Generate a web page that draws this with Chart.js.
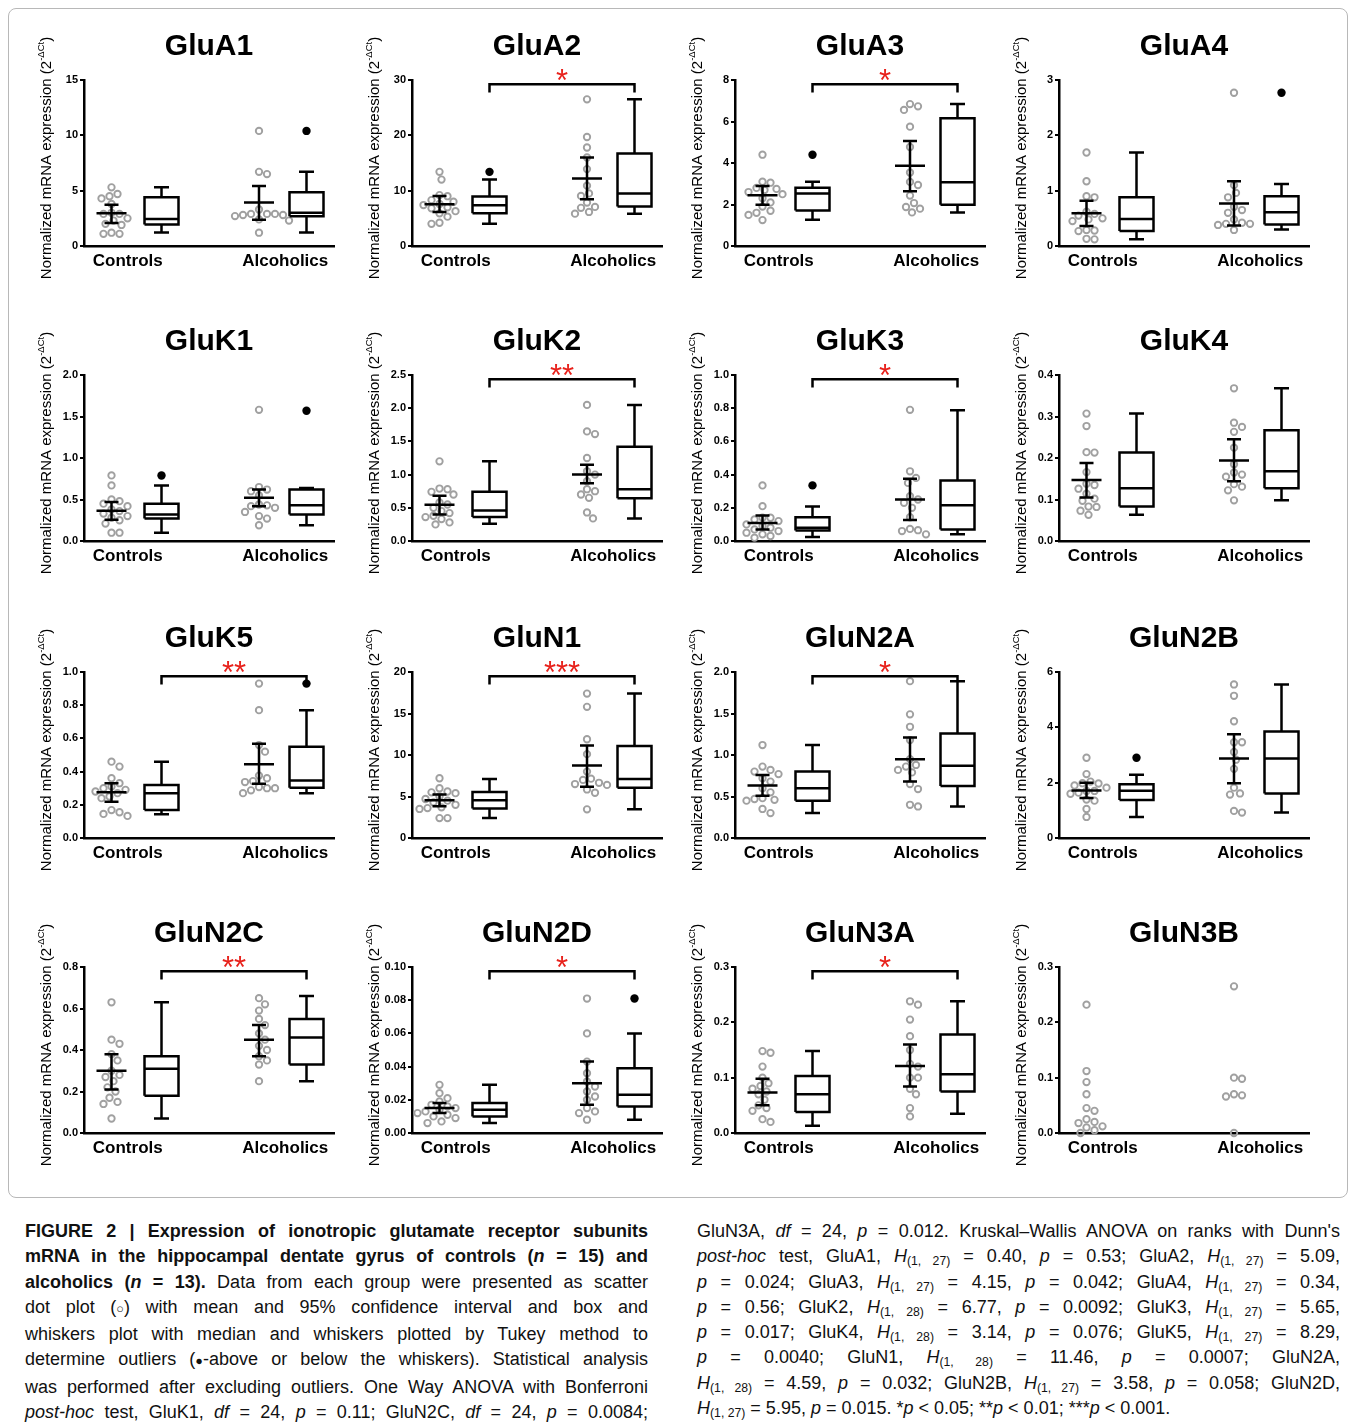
<!DOCTYPE html>
<html>
<head>
<meta charset="utf-8">
<script src="https://cdn.jsdelivr.net/npm/chart.js@4.4.1/dist/chart.umd.min.js"></script>
<style>
  body { margin: 0; background: #fff; width: 1355px; height: 1425px; position: relative; overflow: hidden;
         font-family: "Liberation Sans", Arial, sans-serif; color: #111; }
  #frame { position: absolute; left: 8px; top: 8px; width: 1338px; height: 1188px;
           border: 1px solid #b8b8b8; border-radius: 8px; }
  canvas.panel { position: absolute; }
  .cap { position: absolute; top: 1219px; font-size: 18px; line-height: 25.3px; }
  .cap div { text-align: justify; text-align-last: justify; white-space: nowrap; }
  .cap div.last { text-align-last: left; }
  .cap sub { font-size: 68%; vertical-align: -3px; line-height: 0; }
  .sym { display: inline-block; }
  .sym small { font-size: 70%; }
</style>
</head>
<body>
<div id="frame"></div>

<div class="cap" style="left:25px; width:623px;">
  <div><b>FIGURE 2 | Expression of ionotropic glutamate receptor subunits</b></div>
  <div><b>mRNA in the hippocampal dentate gyrus of controls (<i>n</i> = 15) and</b></div>
  <div><b>alcoholics (<i>n</i> = 13).</b> Data from each group were presented as scatter</div>
  <div>dot plot <span class="sym">(<small>○</small>)</span> with mean and 95% confidence interval and box and</div>
  <div>whiskers plot with median and whiskers plotted by Tukey method to</div>
  <div>determine outliers <span class="sym">(<small>●</small>-above</span> or below the whiskers). Statistical analysis</div>
  <div>was performed after excluding outliers. One Way ANOVA with Bonferroni</div>
  <div><i>post-hoc</i> test, GluK1, <i>df</i> = 24, <i>p</i> = 0.11; GluN2C, <i>df</i> = 24, <i>p</i> = 0.0084;</div>
</div>
<div class="cap" style="left:697px; width:643px;">
  <div>GluN3A, <i>df</i> = 24, <i>p</i> = 0.012. Kruskal–Wallis ANOVA on ranks with Dunn's</div>
  <div><i>post-hoc</i> test, GluA1, <i>H</i><sub>(1, 27)</sub> = 0.40, <i>p</i> = 0.53; GluA2, <i>H</i><sub>(1, 27)</sub> = 5.09,</div>
  <div><i>p</i> = 0.024; GluA3, <i>H</i><sub>(1, 27)</sub> = 4.15, <i>p</i> = 0.042; GluA4, <i>H</i><sub>(1, 27)</sub> = 0.34,</div>
  <div><i>p</i> = 0.56; GluK2, <i>H</i><sub>(1, 28)</sub> = 6.77, <i>p</i> = 0.0092; GluK3, <i>H</i><sub>(1, 27)</sub> = 5.65,</div>
  <div><i>p</i> = 0.017; GluK4, <i>H</i><sub>(1, 28)</sub> = 3.14, <i>p</i> = 0.076; GluK5, <i>H</i><sub>(1, 27)</sub> = 8.29,</div>
  <div><i>p</i> = 0.0040; GluN1, <i>H</i><sub>(1, 28)</sub> = 11.46, <i>p</i> = 0.0007; GluN2A,</div>
  <div><i>H</i><sub>(1, 28)</sub> = 4.59, <i>p</i> = 0.032; GluN2B, <i>H</i><sub>(1, 27)</sub> = 3.58, <i>p</i> = 0.058; GluN2D,</div>
  <div class="last"><i>H</i><sub>(1, 27)</sub> = 5.95, <i>p</i> = 0.015. *<i>p</i> &lt; 0.05; **<i>p</i> &lt; 0.01; ***<i>p</i> &lt; 0.001.</div>
</div>

<script>
const genes = ['GluA1', 'GluA2', 'GluA3', 'GluA4', 'GluK1', 'GluK2', 'GluK3', 'GluK4',
               'GluK5', 'GluN1', 'GluN2A', 'GluN2B', 'GluN2C', 'GluN2D', 'GluN3A', 'GluN3B'];
const groups = ['Controls', 'Alcoholics'];
const yMax  = [15, 30, 8, 3, 2, 2.5, 1, 0.4, 1, 20, 2, 6, 0.8, 0.1, 0.3, 0.3];
const yStep = [5, 10, 2, 1, 0.5, 0.5, 0.2, 0.1, 0.2, 5, 0.5, 2, 0.2, 0.02, 0.1, 0.1];
const stars = ['', '*', '*', '', '', '**', '*', '', '**', '***', '*', '', '**', '*', '*', ''];

// individual subjects (scatter dots)
const controls = [
  [5.3, 4.7, 4.5, 4.3, 3.8, 3.0, 2.9, 2.9, 2.5, 2.3, 2.0, 1.9, 1.2, 1.1, 1.1],
  [13.4, 12.0, 9.2, 9.0, 8.3, 8.0, 7.6, 7.4, 7.0, 6.8, 6.3, 5.9, 5.3, 4.2, 4.0],
  [4.4, 3.1, 3.05, 2.8, 2.75, 2.7, 2.6, 2.5, 2.3, 2.1, 1.9, 1.7, 1.6, 1.5, 1.25],
  [1.69, 1.17, 0.9, 0.88, 0.62, 0.58, 0.55, 0.5, 0.48, 0.45, 0.29, 0.27, 0.28, 0.13, 0.12],
  [0.79, 0.67, 0.5, 0.48, 0.45, 0.42, 0.38, 0.36, 0.33, 0.3, 0.28, 0.25, 0.21, 0.1, 0.1],
  [1.2, 0.79, 0.78, 0.74, 0.7, 0.58, 0.55, 0.5, 0.45, 0.42, 0.38, 0.36, 0.33, 0.28, 0.25],
  [0.335, 0.21, 0.14, 0.14, 0.13, 0.12, 0.1, 0.09, 0.08, 0.07, 0.06, 0.05, 0.04, 0.03, 0.02],
  [0.307, 0.277, 0.214, 0.213, 0.166, 0.138, 0.135, 0.126, 0.114, 0.102, 0.097, 0.083, 0.082, 0.073, 0.063],
  [0.46, 0.43, 0.36, 0.33, 0.31, 0.3, 0.29, 0.28, 0.27, 0.25, 0.24, 0.168, 0.155, 0.145, 0.133],
  [7.2, 6.0, 5.6, 5.5, 5.4, 5.0, 4.7, 4.5, 4.3, 4.0, 3.7, 3.6, 3.5, 2.4, 2.4],
  [1.12, 0.86, 0.82, 0.8, 0.77, 0.72, 0.68, 0.6, 0.55, 0.48, 0.47, 0.46, 0.45, 0.35, 0.3],
  [2.9, 2.31, 2.04, 1.98, 1.97, 1.9, 1.82, 1.7, 1.7, 1.64, 1.6, 1.39, 1.35, 1.05, 0.76],
  [0.63, 0.45, 0.43, 0.38, 0.35, 0.3, 0.28, 0.27, 0.25, 0.22, 0.2, 0.17, 0.15, 0.14, 0.07],
  [0.029, 0.024, 0.021, 0.019, 0.017, 0.016, 0.015, 0.014, 0.013, 0.012, 0.011, 0.01, 0.009, 0.007, 0.006],
  [0.148, 0.145, 0.12, 0.1, 0.09, 0.085, 0.08, 0.075, 0.07, 0.06, 0.05, 0.045, 0.04, 0.025, 0.02],
  [0.232, 0.112, 0.092, 0.07, 0.045, 0.04, 0.025, 0.02, 0.018, 0.012, 0.01, 0.005, 0.0]
];
const alcoholics = [
  [10.4, 6.7, 6.5, 3.3, 2.9, 2.9, 2.9, 2.8, 2.8, 2.7, 2.4, 2.3, 1.2],
  [26.5, 19.7, 17.8, 16.0, 13.9, 10.9, 9.5, 9.05, 7.85, 7.06, 6.9, 6.15, 5.85],
  [6.84, 6.73, 6.56, 5.75, 4.77, 3.54, 3.09, 2.94, 2.43, 2.07, 1.88, 1.8, 1.62],
  [2.77, 1.1, 0.96, 0.88, 0.71, 0.65, 0.6, 0.48, 0.42, 0.4, 0.4, 0.38, 0.29],
  [1.58, 0.65, 0.62, 0.6, 0.55, 0.44, 0.43, 0.42, 0.4, 0.35, 0.3, 0.27, 0.19],
  [2.05, 1.65, 1.61, 1.25, 1.05, 1.0, 0.9, 0.78, 0.75, 0.7, 0.65, 0.43, 0.34],
  [0.79, 0.42, 0.38, 0.35, 0.27, 0.25, 0.23, 0.2, 0.143, 0.073, 0.065, 0.06, 0.04],
  [0.368, 0.285, 0.275, 0.263, 0.225, 0.185, 0.165, 0.16, 0.155, 0.137, 0.131, 0.122, 0.098],
  [0.93, 0.77, 0.56, 0.52, 0.376, 0.36, 0.343, 0.337, 0.307, 0.3, 0.3, 0.287, 0.27],
  [17.4, 15.8, 11.9, 10.1, 8.0, 7.15, 7.0, 6.65, 6.5, 6.4, 5.85, 5.45, 3.45],
  [1.89, 1.49, 1.34, 1.18, 0.95, 0.88, 0.86, 0.82, 0.79, 0.65, 0.59, 0.4, 0.38],
  [5.55, 5.14, 4.22, 3.46, 3.46, 3.11, 2.83, 2.5, 1.82, 1.61, 1.57, 0.98, 0.92],
  [0.65, 0.62, 0.59, 0.55, 0.52, 0.48, 0.45, 0.42, 0.4, 0.37, 0.35, 0.33, 0.25],
  [0.081, 0.06, 0.043, 0.036, 0.031, 0.028, 0.025, 0.022, 0.02, 0.015, 0.013, 0.012, 0.008],
  [0.238, 0.232, 0.205, 0.175, 0.15, 0.125, 0.12, 0.1, 0.1, 0.08, 0.07, 0.045, 0.03],
  [0.265, 0.1, 0.098, 0.07, 0.068, 0.066, 0.0]
];

// mean with 95% CI: [mean, low, high]
const ctrlMean = [
  [2.96, 2.07, 3.72], [7.54, 6.15, 9.05], [2.45, 1.99, 2.89], [0.59, 0.36, 0.82],
  [0.364, 0.255, 0.47], [0.546, 0.40, 0.68], [0.109, 0.07, 0.153], [0.147, 0.105, 0.188],
  [0.275, 0.218, 0.33], [4.55, 3.82, 5.23], [0.634, 0.51, 0.76], [1.72, 1.45, 2.0],
  [0.30, 0.21, 0.38], [0.015, 0.012, 0.018], [0.073, 0.05, 0.098], null
];
const alcMean = [
  [3.93, 2.38, 5.43], [12.19, 8.45, 16.0], [3.87, 2.64, 5.06], [0.77, 0.37, 1.17],
  [0.52, 0.42, 0.62], [1.0, 0.87, 1.15], [0.25, 0.127, 0.375], [0.194, 0.144, 0.245],
  [0.445, 0.327, 0.568], [8.73, 6.16, 11.15], [0.95, 0.68, 1.21], [2.87, 1.98, 3.75],
  [0.45, 0.37, 0.52], [0.030, 0.017, 0.043], [0.121, 0.084, 0.16], null
];

// Tukey box: [whisker low, q1, median, q3, whisker high]
const ctrlBox = [
  [1.22, 1.95, 2.44, 4.4, 5.3], [4.0, 5.9, 7.36, 8.93, 12.0], [1.26, 1.71, 2.53, 2.81, 3.1],
  [0.12, 0.27, 0.49, 0.88, 1.69], [0.1, 0.27, 0.32, 0.45, 0.67], [0.26, 0.36, 0.46, 0.74, 1.2],
  [0.024, 0.063, 0.08, 0.143, 0.208], [0.063, 0.083, 0.127, 0.213, 0.307], [0.143, 0.168, 0.27, 0.32, 0.46],
  [2.4, 3.54, 4.55, 5.55, 7.12], [0.3, 0.45, 0.6, 0.8, 1.12], [0.76, 1.37, 1.71, 1.94, 2.29],
  [0.07, 0.18, 0.31, 0.37, 0.63], [0.006, 0.01, 0.014, 0.018, 0.029], [0.013, 0.038, 0.07, 0.103, 0.148], null
];
const alcBox = [
  [1.22, 2.68, 3.0, 4.85, 6.7], [5.85, 7.12, 9.47, 16.7, 26.5], [1.62, 1.99, 3.07, 6.16, 6.84],
  [0.3, 0.39, 0.61, 0.9, 1.12], [0.19, 0.32, 0.43, 0.62, 0.64], [0.34, 0.645, 0.78, 1.42, 2.05],
  [0.04, 0.07, 0.216, 0.365, 0.788], [0.098, 0.127, 0.168, 0.267, 0.368], [0.27, 0.303, 0.347, 0.55, 0.77],
  [3.45, 6.04, 7.12, 11.07, 17.4], [0.38, 0.626, 0.87, 1.26, 1.89], [0.92, 1.61, 2.87, 3.85, 5.55],
  [0.25, 0.33, 0.46, 0.55, 0.66], [0.008, 0.016, 0.023, 0.039, 0.06], [0.035, 0.075, 0.106, 0.178, 0.238], null
];
const ctrlOutliers = [[], [13.4], [4.4], [], [0.79], [], [0.335], [], [], [], [], [2.9], [], [], [], []];
const alcOutliers  = [[10.4], [], [], [2.77], [1.57], [], [], [], [0.93], [], [], [], [], [0.081], [], []];

// x positions on a 0..100 axis
const X = { ctrlDots: 11, ctrlBox: 31, alcDots: 70, alcBox: 89, ctrlLabel: 17.5, alcLabel: 80.5 };
const FONT = '"Liberation Sans", Arial, sans-serif';

// simple beeswarm so the dots don't sit on top of each other
function swarm(values, center, ymax) {
  const pxX = 2.5, pxY = 166 / ymax, gap = 7.8, step = 2;
  const placed = [];
  const out = new Array(values.length);
  const order = values.map((v, i) => i).sort((a, b) => values[b] - values[a]);
  order.forEach(i => {
    const py = values[i] * pxY;
    for (let k = 0; k < 80; k++) {
      const off = (k % 2 ? 1 : -1) * Math.ceil(k / 2) * step;
      if (placed.every(p => Math.hypot(p.x - off, p.y - py) >= gap)) {
        placed.push({ x: off, y: py });
        out[i] = { x: center + off / pxX, y: values[i] };
        break;
      }
    }
  });
  return out;
}

// polylines -> one dataset, broken with null points
function polys(list) {
  const pts = [];
  list.forEach(pl => {
    pl.forEach(([x, y]) => pts.push({ x, y }));
    pts.push({ x: null, y: null });
  });
  return pts;
}

function meanLines(c, m) {
  const [mean, lo, hi] = m;
  return [[[c - 6, mean], [c + 6, mean]], [[c, lo], [c, hi]],
          [[c - 2.8, lo], [c + 2.8, lo]], [[c - 2.8, hi], [c + 2.8, hi]]];
}

function boxLines(c, b) {
  const [lo, q1, med, q3, hi] = b, w = 6.8, cw = 3;
  return [[[c - w, q1], [c + w, q1], [c + w, q3], [c - w, q3], [c - w, q1]],
          [[c - w, med], [c + w, med]],
          [[c, q3], [c, hi]], [[c - cw, hi], [c + cw, hi]],
          [[c, q1], [c, lo]], [[c - cw, lo], [c + cw, lo]]];
}

const panelText = {
  id: 'panelText',
  afterDraw(chart, args, opts) {
    const { ctx, chartArea: a, scales: { x, y } } = chart;
    ctx.save();
    ctx.fillStyle = '#000';
    ctx.font = 'bold 30px ' + FONT;
    ctx.textAlign = 'center';
    ctx.textBaseline = 'middle';
    ctx.fillText(opts.title, (a.left + a.right) / 2, a.top - 33);

    if (opts.stars) {
      const by = y.getPixelForValue(opts.bracket);
      const mx = (x.getPixelForValue(X.ctrlBox) + x.getPixelForValue(X.alcBox)) / 2;
      ctx.fillStyle = '#e8221c';
      ctx.font = '31px ' + FONT;
      ctx.textBaseline = 'alphabetic';
      ctx.fillText(opts.stars, mx, by + 7);
    }

    // y axis title with superscript
    const main = 'Normalized mRNA expression (2', sup = '-\u0394Ct', end = ')';
    ctx.fillStyle = '#000';
    ctx.font = '15px ' + FONT;
    const w1 = ctx.measureText(main).width, w3 = ctx.measureText(end).width;
    ctx.font = '9.5px ' + FONT;
    const w2 = ctx.measureText(sup).width;
    const total = w1 + w2 + w3;
    ctx.translate(a.left - 39, (a.top + a.bottom) / 2 - 5);
    ctx.rotate(-Math.PI / 2);
    ctx.textAlign = 'left';
    ctx.textBaseline = 'alphabetic';
    let sx = -total / 2;
    ctx.font = '15px ' + FONT;
    ctx.fillText(main, sx, 5.5);
    sx += w1;
    ctx.font = '9.5px ' + FONT;
    ctx.fillText(sup, sx, -1);
    sx += w2;
    ctx.font = '15px ' + FONT;
    ctx.fillText(end, sx, 5.5);
    ctx.restore();
  }
};

const lefts = [29, 357, 680, 1004];
const tops = [20, 315, 612, 907];

genes.forEach((gene, i) => {
  const cv = document.createElement('canvas');
  cv.width = 320;
  cv.height = 290;
  cv.className = 'panel';
  cv.style.left = lefts[i % 4] + 'px';
  cv.style.top = tops[Math.floor(i / 4)] + 'px';
  document.body.appendChild(cv);

  const lineStyle = {
    showLine: true, borderColor: '#000', borderWidth: 2.5, pointRadius: 0,
    borderCapStyle: 'butt', borderJoinStyle: 'miter', spanGaps: false, clip: false
  };
  const datasets = [];
  let lines = [];
  if (ctrlMean[i]) lines = lines.concat(meanLines(X.ctrlDots, ctrlMean[i]));
  if (alcMean[i]) lines = lines.concat(meanLines(X.alcDots, alcMean[i]));
  if (ctrlBox[i]) lines = lines.concat(boxLines(X.ctrlBox, ctrlBox[i]));
  if (alcBox[i]) lines = lines.concat(boxLines(X.alcBox, alcBox[i]));
  const b1 = yMax[i] * 0.925, b2 = yMax[i] * 0.975;
  if (stars[i]) lines.push([[X.ctrlBox, b1], [X.ctrlBox, b2], [X.alcBox, b2], [X.alcBox, b1]]);
  if (lines.length) datasets.push(Object.assign({ data: polys(lines) }, lineStyle));

  datasets.push({
    data: ctrlOutliers[i].map(v => ({ x: X.ctrlBox, y: v }))
      .concat(alcOutliers[i].map(v => ({ x: X.alcBox, y: v }))),
    pointRadius: 4.2, pointBackgroundColor: '#000', pointBorderColor: '#000', pointBorderWidth: 0, clip: false
  });
  const dotStyle = {
    pointRadius: 3.2, pointBorderWidth: 1.9, pointBorderColor: '#a0a0a0',
    pointBackgroundColor: 'rgba(255,255,255,0)', clip: false
  };
  datasets.push(Object.assign({ data: swarm(controls[i], X.ctrlDots, yMax[i]) }, dotStyle));
  datasets.push(Object.assign({ data: swarm(alcoholics[i], X.alcDots, yMax[i]) }, dotStyle));

  const dec = yStep[i] >= 1 ? 0 : (yStep[i] >= 0.1 ? 1 : 2);

  new Chart(cv, {
    type: 'scatter',
    data: { datasets },
    plugins: [panelText],
    options: {
      responsive: false,
      animation: false,
      events: [],
      layout: { padding: { left: 22, top: 60, right: 15, bottom: 34 } },
      plugins: {
        legend: { display: false },
        tooltip: { enabled: false },
        panelText: { title: gene, stars: stars[i], bracket: b2 }
      },
      scales: {
        x: {
          type: 'linear', min: 0, max: 100,
          grid: { drawOnChartArea: false, drawTicks: false },
          border: { color: '#000', width: 2.5 },
          afterBuildTicks: ax => { ax.ticks = [{ value: X.ctrlLabel }, { value: X.alcLabel }]; },
          afterFit: s => { s.height = 30; },
          ticks: {
            autoSkip: false, maxRotation: 0, padding: 5, color: '#000',
            font: { family: FONT, size: 17, weight: 'bold' },
            callback: v => (v < 50 ? groups[0] : groups[1])
          }
        },
        y: {
          min: 0, max: yMax[i],
          grid: { drawOnChartArea: false, drawTicks: true, tickLength: 4, color: '#000', lineWidth: 2 },
          border: { color: '#000', width: 2.5 },
          afterFit: s => { s.width = 33; },
          ticks: {
            stepSize: yStep[i], padding: 2, color: '#000',
            font: { family: FONT, size: 11, weight: 'bold' },
            callback: v => Number(v).toFixed(dec)
          }
        }
      }
    }
  });
});
</script>
</body>
</html>
